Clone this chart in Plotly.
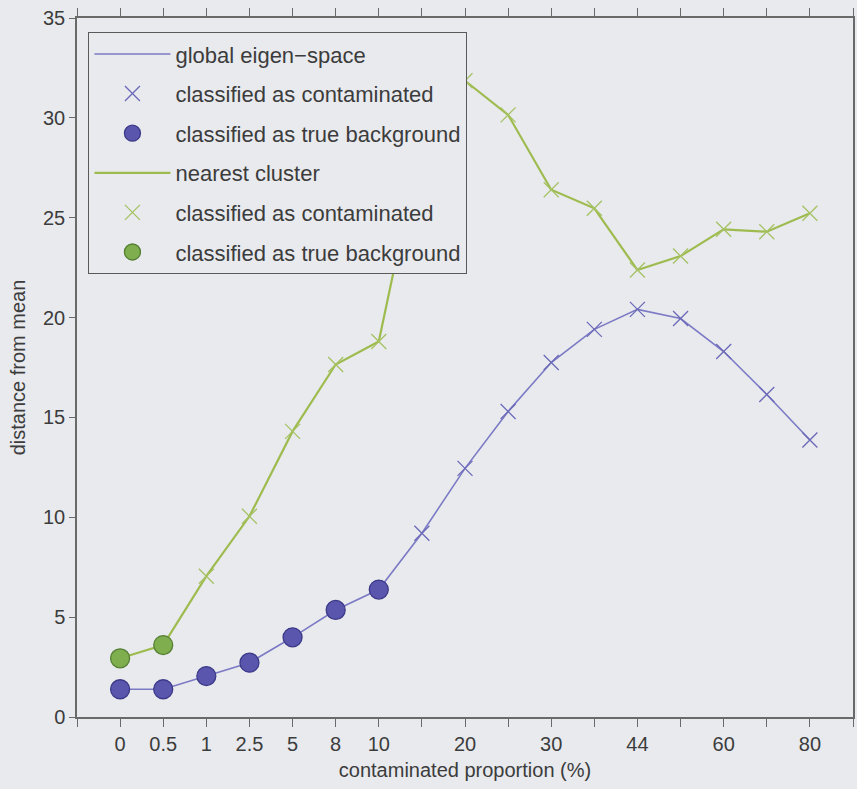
import plotly.graph_objects as go

# Contaminated proportion (%) at each measured step; unlabeled steps are left blank
tick_labels = ["0", "0.5", "1", "2.5", "5", "8", "10", "", "20", "", "30", "", "44", "", "60", "", "80"]

# Distance from mean for the two methods
global_eigen = [1.39, 1.39, 2.05, 2.72, 3.99, 5.36, 6.38, 9.2, 12.45, 15.3, 17.75, 19.41, 20.41,
                19.95, 18.3, 16.15, 13.87]
nearest_cluster = [2.94, 3.6, 7.05, 10.05, 14.3, 17.65, 18.8, 29.0, 31.86, 30.15, 26.4, 25.47,
                   22.38, 23.08, 24.42, 24.3, 25.22]

# Number of leading steps classified as true background for each method
global_background_count = 7
nearest_background_count = 2

x_idx = list(range(len(tick_labels)))

BG = "#e8eaee"
TEXT = "#3c3c3c"
AXIS = "#6a6a6a"
BLUE_LINE = "#7c7ac4"
BLUE_CROSS = "#6c6ab8"
BLUE_FILL = "#5a56ae"
BLUE_EDGE = "#3c3a88"
GREEN_LINE = "#9ebb4e"
GREEN_CROSS = "#a6c264"
GREEN_FILL = "#7fae4e"
GREEN_EDGE = "#557f32"
FONT = "Liberation Sans, Arial, sans-serif"


def series_traces(values, n_bg, name, line_col, cross_col, fill_col, edge_col, group, lw):
    xb, yb = x_idx[:n_bg], values[:n_bg]
    xc, yc = x_idx[n_bg:], values[n_bg:]
    return [
        go.Scatter(x=x_idx, y=values, mode="lines", name=name,
                   line=dict(color=line_col, width=lw),
                   legendgroup=group + "l"),
        go.Scatter(x=xc, y=yc, mode="markers", name="classified as contaminated",
                   marker=dict(symbol="x-thin-open", size=15, color=cross_col,
                               line=dict(color=cross_col, width=1.3)),
                   legendgroup=group + "c"),
        go.Scatter(x=xb, y=yb, mode="markers", name="classified as true background",
                   marker=dict(symbol="circle", size=19, color=fill_col,
                               line=dict(color=edge_col, width=1.3)),
                   legendgroup=group + "b"),
    ]


fig = go.Figure()
for t in series_traces(global_eigen, global_background_count, "global eigen\u2212space",
                       BLUE_LINE, BLUE_CROSS, BLUE_FILL, BLUE_EDGE, "g", 1.6):
    fig.add_trace(t)
for t in series_traces(nearest_cluster, nearest_background_count, "nearest cluster",
                       GREEN_LINE, GREEN_CROSS, GREEN_FILL, GREEN_EDGE, "n", 2.2):
    fig.add_trace(t)

all_ticks = list(range(-1, len(tick_labels) + 1))
all_text = [""] + tick_labels + [""]

fig.update_layout(
    width=857, height=789,
    margin=dict(l=77, r=2, t=18, b=72),
    paper_bgcolor=BG, plot_bgcolor=BG,
    font=dict(family=FONT, size=20, color=TEXT),
    showlegend=True,
    legend=dict(
        x=0.0145, y=0.98, xanchor="left", yanchor="top",
        bgcolor=BG, bordercolor="#5a5a5a", borderwidth=1.2,
        font=dict(family=FONT, size=22, color=TEXT),
        tracegroupgap=8, itemwidth=76, traceorder="grouped",
    ),
    xaxis=dict(
        range=[-1, len(tick_labels)], tickmode="array",
        tickvals=all_ticks, ticktext=all_text,
        showgrid=False, zeroline=False,
        showline=True, linecolor=AXIS, linewidth=1.5, mirror="ticks",
        ticks="outside", ticklen=8, tickwidth=1.2, tickcolor=AXIS,
        tickfont=dict(size=20, color=TEXT),
        title=dict(text="contaminated proportion (%)", font=dict(size=20, color=TEXT), standoff=9),
    ),
    yaxis=dict(
        range=[0, 35], tickmode="array", tickvals=[0, 5, 10, 15, 20, 25, 30, 35],
        showgrid=False, zeroline=False,
        showline=True, linecolor=AXIS, linewidth=1.5, mirror=True,
        ticks="outside", ticklen=6, tickwidth=1.2, tickcolor=AXIS,
        tickfont=dict(size=20, color=TEXT),
        title=dict(text="distance from mean", font=dict(size=20, color=TEXT), standoff=12),
    ),
)

fig.write_html("out.html")
